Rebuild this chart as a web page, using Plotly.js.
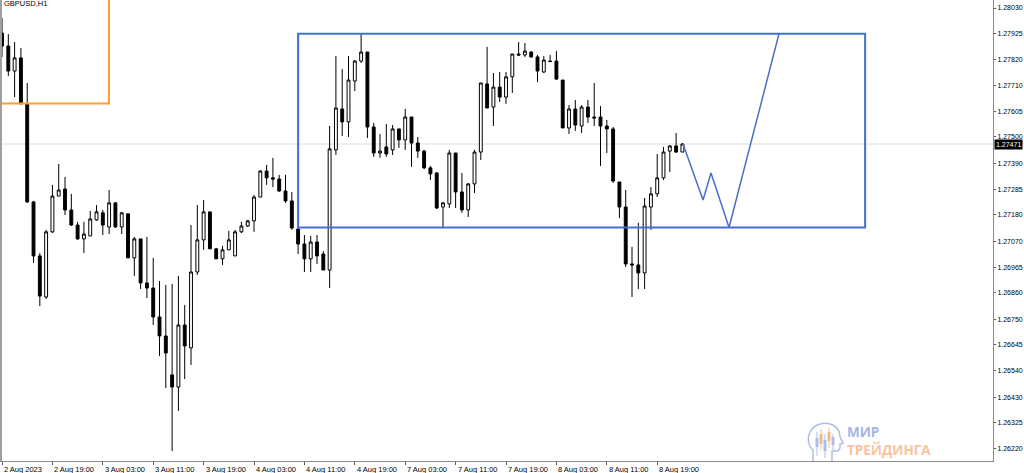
<!DOCTYPE html>
<html>
<head>
<meta charset="utf-8">
<script src="https://cdn.plot.ly/plotly-3.0.1.min.js"></script>
<style>
html,body{margin:0;padding:0;background:#fff;}
#chart{width:1024px;height:473px;}
</style>
</head>
<body>
<div id="chart"></div>
<script>
// GBPUSD H1 candles, 2 Aug 2023 11:00 -> 8 Aug 2023 23:00
const opens = [1.27927,1.27874,1.27771,1.27825,1.27636,1.27233,1.27011,1.26842,1.27110,1.27257,
1.27286,1.27200,1.27138,1.27081,1.27093,1.27159,1.27188,1.27130,1.27229,1.27130,
1.27184,1.27003,1.27081,1.26900,1.26879,1.26760,1.26682,1.26522,1.26472,1.26727,
1.26633,1.26945,1.27077,1.27192,1.27040,1.26999,1.27036,1.27011,1.27110,1.27134,
1.27155,1.27253,1.27360,1.27332,1.27327,1.27278,1.27237,1.27122,1.27060,1.26999,
1.27068,1.27019,1.26953,1.27447,1.27615,1.27562,1.27730,1.27812,1.27849,1.27541,
1.27434,1.27459,1.27447,1.27533,1.27488,1.27582,1.27475,1.27442,1.27373,1.27352,
1.27212,1.27225,1.27434,1.27274,1.27200,1.27307,1.27438,1.27718,1.27623,1.27705,
1.27664,1.27747,1.27841,1.27837,1.27849,1.27829,1.27767,1.27812,1.27812,1.27734,
1.27537,1.27615,1.27545,1.27623,1.27582,1.27582,1.27545,1.27533,1.27315,1.27212,
1.26978,1.26974,1.26941,1.27212,1.27266,1.27332,1.27442,1.27463,1.27438];
const highs = [1.27989,1.27923,1.27890,1.27866,1.27722,1.27237,1.27023,1.27118,1.27303,1.27389,
1.27336,1.27266,1.27151,1.27151,1.27196,1.27220,1.27200,1.27282,1.27233,1.27192,
1.27184,1.27089,1.27081,1.27089,1.27003,1.26908,1.26892,1.26896,1.26929,1.26809,
1.27138,1.27220,1.27241,1.27192,1.27044,1.27052,1.27114,1.27118,1.27151,1.27159,
1.27262,1.27364,1.27385,1.27414,1.27344,1.27344,1.27274,1.27122,1.27097,1.27093,
1.27097,1.27031,1.27545,1.27833,1.27779,1.27833,1.27816,1.27927,1.27849,1.27558,
1.27512,1.27553,1.27549,1.27533,1.27615,1.27582,1.27500,1.27447,1.27381,1.27356,
1.27233,1.27447,1.27434,1.27352,1.27311,1.27447,1.27722,1.27870,1.27763,1.27767,
1.27767,1.27841,1.27890,1.27886,1.27853,1.27837,1.27833,1.27837,1.27853,1.27734,
1.27631,1.27652,1.27631,1.27652,1.27722,1.27627,1.27570,1.27541,1.27315,1.27282,
1.27048,1.27147,1.27249,1.27294,1.27430,1.27459,1.27467,1.27516,1.27475];
const lows = [1.27829,1.27751,1.27664,1.27636,1.27229,1.26982,1.26805,1.26834,1.27105,1.27257,
1.27179,1.27134,1.27077,1.27023,1.27093,1.27155,1.27097,1.27101,1.27126,1.27101,
1.27003,1.26929,1.26875,1.26838,1.26727,1.26600,1.26468,1.26209,1.26374,1.26505,
1.26563,1.26933,1.27036,1.27040,1.26999,1.26974,1.27036,1.27011,1.27105,1.27130,
1.27110,1.27253,1.27303,1.27294,1.27274,1.27229,1.27118,1.27019,1.26945,1.26945,
1.26978,1.26953,1.26879,1.27426,1.27504,1.27500,1.27689,1.27804,1.27496,1.27418,
1.27414,1.27418,1.27426,1.27455,1.27447,1.27377,1.27414,1.27368,1.27323,1.27204,
1.27126,1.27208,1.27208,1.27188,1.27171,1.27270,1.27405,1.27619,1.27545,1.27644,
1.27636,1.27681,1.27833,1.27829,1.27825,1.27726,1.27763,1.27808,1.27734,1.27537,
1.27512,1.27525,1.27516,1.27558,1.27545,1.27381,1.27434,1.27311,1.27167,1.26966,
1.26842,1.26875,1.26875,1.27118,1.27253,1.27323,1.27356,1.27434,1.27438];
const closes = [1.27874,1.27771,1.27825,1.27636,1.27233,1.27011,1.26846,1.27110,1.27257,1.27282,
1.27200,1.27138,1.27081,1.27101,1.27163,1.27192,1.27138,1.27229,1.27130,1.27188,
1.27003,1.27081,1.26900,1.26879,1.26760,1.26682,1.26612,1.26472,1.26727,1.26641,
1.26945,1.27077,1.27192,1.27040,1.26999,1.27036,1.27077,1.27110,1.27134,1.27155,
1.27253,1.27360,1.27332,1.27327,1.27278,1.27237,1.27126,1.27060,1.26999,1.27068,
1.27011,1.26953,1.27451,1.27619,1.27562,1.27734,1.27812,1.27849,1.27541,1.27434,
1.27442,1.27430,1.27533,1.27488,1.27582,1.27475,1.27442,1.27373,1.27348,1.27208,
1.27229,1.27434,1.27274,1.27200,1.27307,1.27438,1.27722,1.27619,1.27705,1.27664,
1.27747,1.27841,1.27837,1.27853,1.27829,1.27771,1.27816,1.27810,1.27738,1.27537,
1.27615,1.27549,1.27623,1.27582,1.27578,1.27545,1.27533,1.27319,1.27212,1.26978,
1.26974,1.26941,1.27216,1.27266,1.27332,1.27438,1.27463,1.27438,1.27471];

// time axis labels (every 8th bar)
const timeLabelBars = [0,8,16,24,32,40,48,56,64,72,80,88,96,104];
const timeLabels = ['2 Aug 2023','2 Aug 19:00','3 Aug 03:00','3 Aug 11:00','3 Aug 19:00','4 Aug 03:00','4 Aug 11:00','4 Aug 19:00','7 Aug 03:00','7 Aug 11:00','7 Aug 19:00','8 Aug 03:00','8 Aug 11:00','8 Aug 19:00'];
// price scale labels
const priceTicks = [1.28030,1.27925,1.27820,1.27710,1.27605,1.27500,1.27390,1.27285,1.27180,1.27070,1.26965,1.26860,1.26750,1.26645,1.26540,1.26430,1.26325,1.26220];
const lastPrice = 1.27471;
const symbolLabel = 'GBPUSD,H1';

// drawn forecast zigzag (bar position, price)
const forecastBars = [108.1,111.27,112.54,115.4,123.33];
const forecastPrices = [1.27471,1.27241,1.27352,1.27128,1.27924];
// range box (bar positions, prices)
const rangeBox = {x0:47.0, x1:137.0, low:1.27128, high:1.27924};
const orangeBox = {x0:-5, x1:16.98, low:1.27638, high:1.2830};

const bars = opens.map((_, i) => i);
const FONT = 'Liberation Sans, Arial, sans-serif';

const traces = [
  {
    type:'candlestick', x:bars, open:opens, high:highs, low:lows, close:closes,
    increasing:{line:{color:'#000', width:1}, fillcolor:'#ffffff'},
    decreasing:{line:{color:'#000', width:1}, fillcolor:'#000000'},
    hoverinfo:'none', showlegend:false
  },
  {
    type:'scatter', mode:'lines', x:forecastBars, y:forecastPrices,
    line:{color:'#4a6fc8', width:1.5}, hoverinfo:'none', showlegend:false
  }
];

const annotations = timeLabels.map((t,i)=>({
  text:t, x:timeLabelBars[i], xref:'x', y:0, yref:'paper',
  xanchor:'left', yanchor:'top', yshift:-2, xshift:0, showarrow:false,
  font:{family:FONT, size:7.5, color:'#000'}
}));
annotations.push({
  text:lastPrice.toFixed(5), x:1, xref:'paper', y:lastPrice, yref:'y',
  xanchor:'left', yanchor:'middle', xshift:1, showarrow:false,
  bgcolor:'#000', borderpad:1, font:{family:FONT, size:7, color:'#fff'}
});
annotations.push({
  text:symbolLabel, x:0, xref:'paper', y:1, yref:'paper',
  xanchor:'left', yanchor:'top', xshift:2, yshift:3, showarrow:false,
  font:{family:FONT, size:7.5, color:'#000'}
});
annotations.push({
  text:'<b><span style="color:#a3b5e4">МИР</span><br><span style="color:#f8c49c">ТРЕЙДИНГА</span></b>',
  x:845/993, xref:'paper', y:1-441/461, yref:'paper',
  xanchor:'left', yanchor:'middle', align:'left', showarrow:false,
  font:{family:'Open Sans, sans-serif', size:13.5, color:'#a3b5e4'}
});

const logoSvg = '<svg xmlns="http://www.w3.org/2000/svg" width="40" height="42" viewBox="0 0 40 42">'+
 '<path d="M8 41 L8 30 C3 26 2 18 5 12 C9 4 20 1 28 5 C33 8 35 13 35 17 L38 23 L35 24 L35 28 L33 31 L27 31 L27 41" fill="none" stroke="#aebde6" stroke-width="1.5"/>'+
 '<g stroke-width="1"><line x1="12" y1="12" x2="12" y2="36" stroke="#aebde6"/><rect x="10.5" y="18" width="3" height="9" fill="#aebde6"/>'+
 '<line x1="16" y1="9" x2="16" y2="30" stroke="#f6b88a"/><rect x="14.5" y="14" width="3" height="10" fill="#f6b88a"/>'+
 '<line x1="20" y1="14" x2="20" y2="38" stroke="#aebde6"/><rect x="18.5" y="20" width="3" height="11" fill="#aebde6"/>'+
 '<line x1="24" y1="8" x2="24" y2="28" stroke="#f6b88a"/><rect x="22.5" y="12" width="3" height="9" fill="#f6b88a"/>'+
 '<line x1="28" y1="14" x2="28" y2="30" stroke="#aebde6"/><rect x="26.5" y="17" width="3" height="8" fill="#aebde6"/></g></svg>';

const layout = {
  width:1024, height:473,
  margin:{l:0, r:31, t:0, b:12, pad:0},
  paper_bgcolor:'#fff', plot_bgcolor:'#fff',
  showlegend:false, dragmode:false, boxgap:0.35,
  font:{family:FONT, size:7.5, color:'#000'},
  xaxis:{
    range:[-0.32, 157.3], showgrid:false, zeroline:false,
    showline:true, linecolor:'#8c8c8c', linewidth:1,
    ticks:'outside', ticklen:3, tickcolor:'#555', tickwidth:1,
    tickmode:'array', tickvals:timeLabelBars, showticklabels:false,
    rangeslider:{visible:false}, fixedrange:true
  },
  yaxis:{
    side:'right', range:[1.26168, 1.28063], showgrid:false, zeroline:false,
    showline:true, linecolor:'#8c8c8c', linewidth:1,
    ticks:'outside', ticklen:2, tickcolor:'#555', tickwidth:1,
    tickmode:'array', tickvals:priceTicks, ticktext:priceTicks.map(v=>v.toFixed(5)),
    tickfont:{family:FONT, size:7, color:'#000'}, fixedrange:true
  },
  shapes:[
    {type:'line', xref:'paper', x0:0, x1:1, yref:'y', y0:lastPrice, y1:lastPrice,
     line:{color:'#dcdcdc', width:1}, layer:'below'},
    {type:'rect', xref:'x', yref:'y', x0:orangeBox.x0, x1:orangeBox.x1, y0:orangeBox.low, y1:orangeBox.high,
     line:{color:'#ff9c33', width:2}, fillcolor:'rgba(0,0,0,0)', layer:'above'},
    {type:'rect', xref:'x', yref:'y', x0:rangeBox.x0, x1:rangeBox.x1, y0:rangeBox.low, y1:rangeBox.high,
     line:{color:'#4470d6', width:2}, fillcolor:'rgba(0,0,0,0)', layer:'above'},
    {type:'line', xref:'paper', yref:'paper', x0:0.001, x1:0.001, y0:0, y1:1,
     line:{color:'#a0a0a0', width:2}}
  ],
  images:[{
    source:'data:image/svg+xml;charset=utf-8,'+encodeURIComponent(logoSvg),
    xref:'paper', yref:'paper', x:805/993, y:1-420/461, sizex:40/993, sizey:42/461,
    xanchor:'left', yanchor:'top', sizing:'stretch', layer:'above'
  }],
  annotations:annotations
};

Plotly.newPlot('chart', traces, layout, {staticPlot:true, displayModeBar:false});
</script>
</body>
</html>
